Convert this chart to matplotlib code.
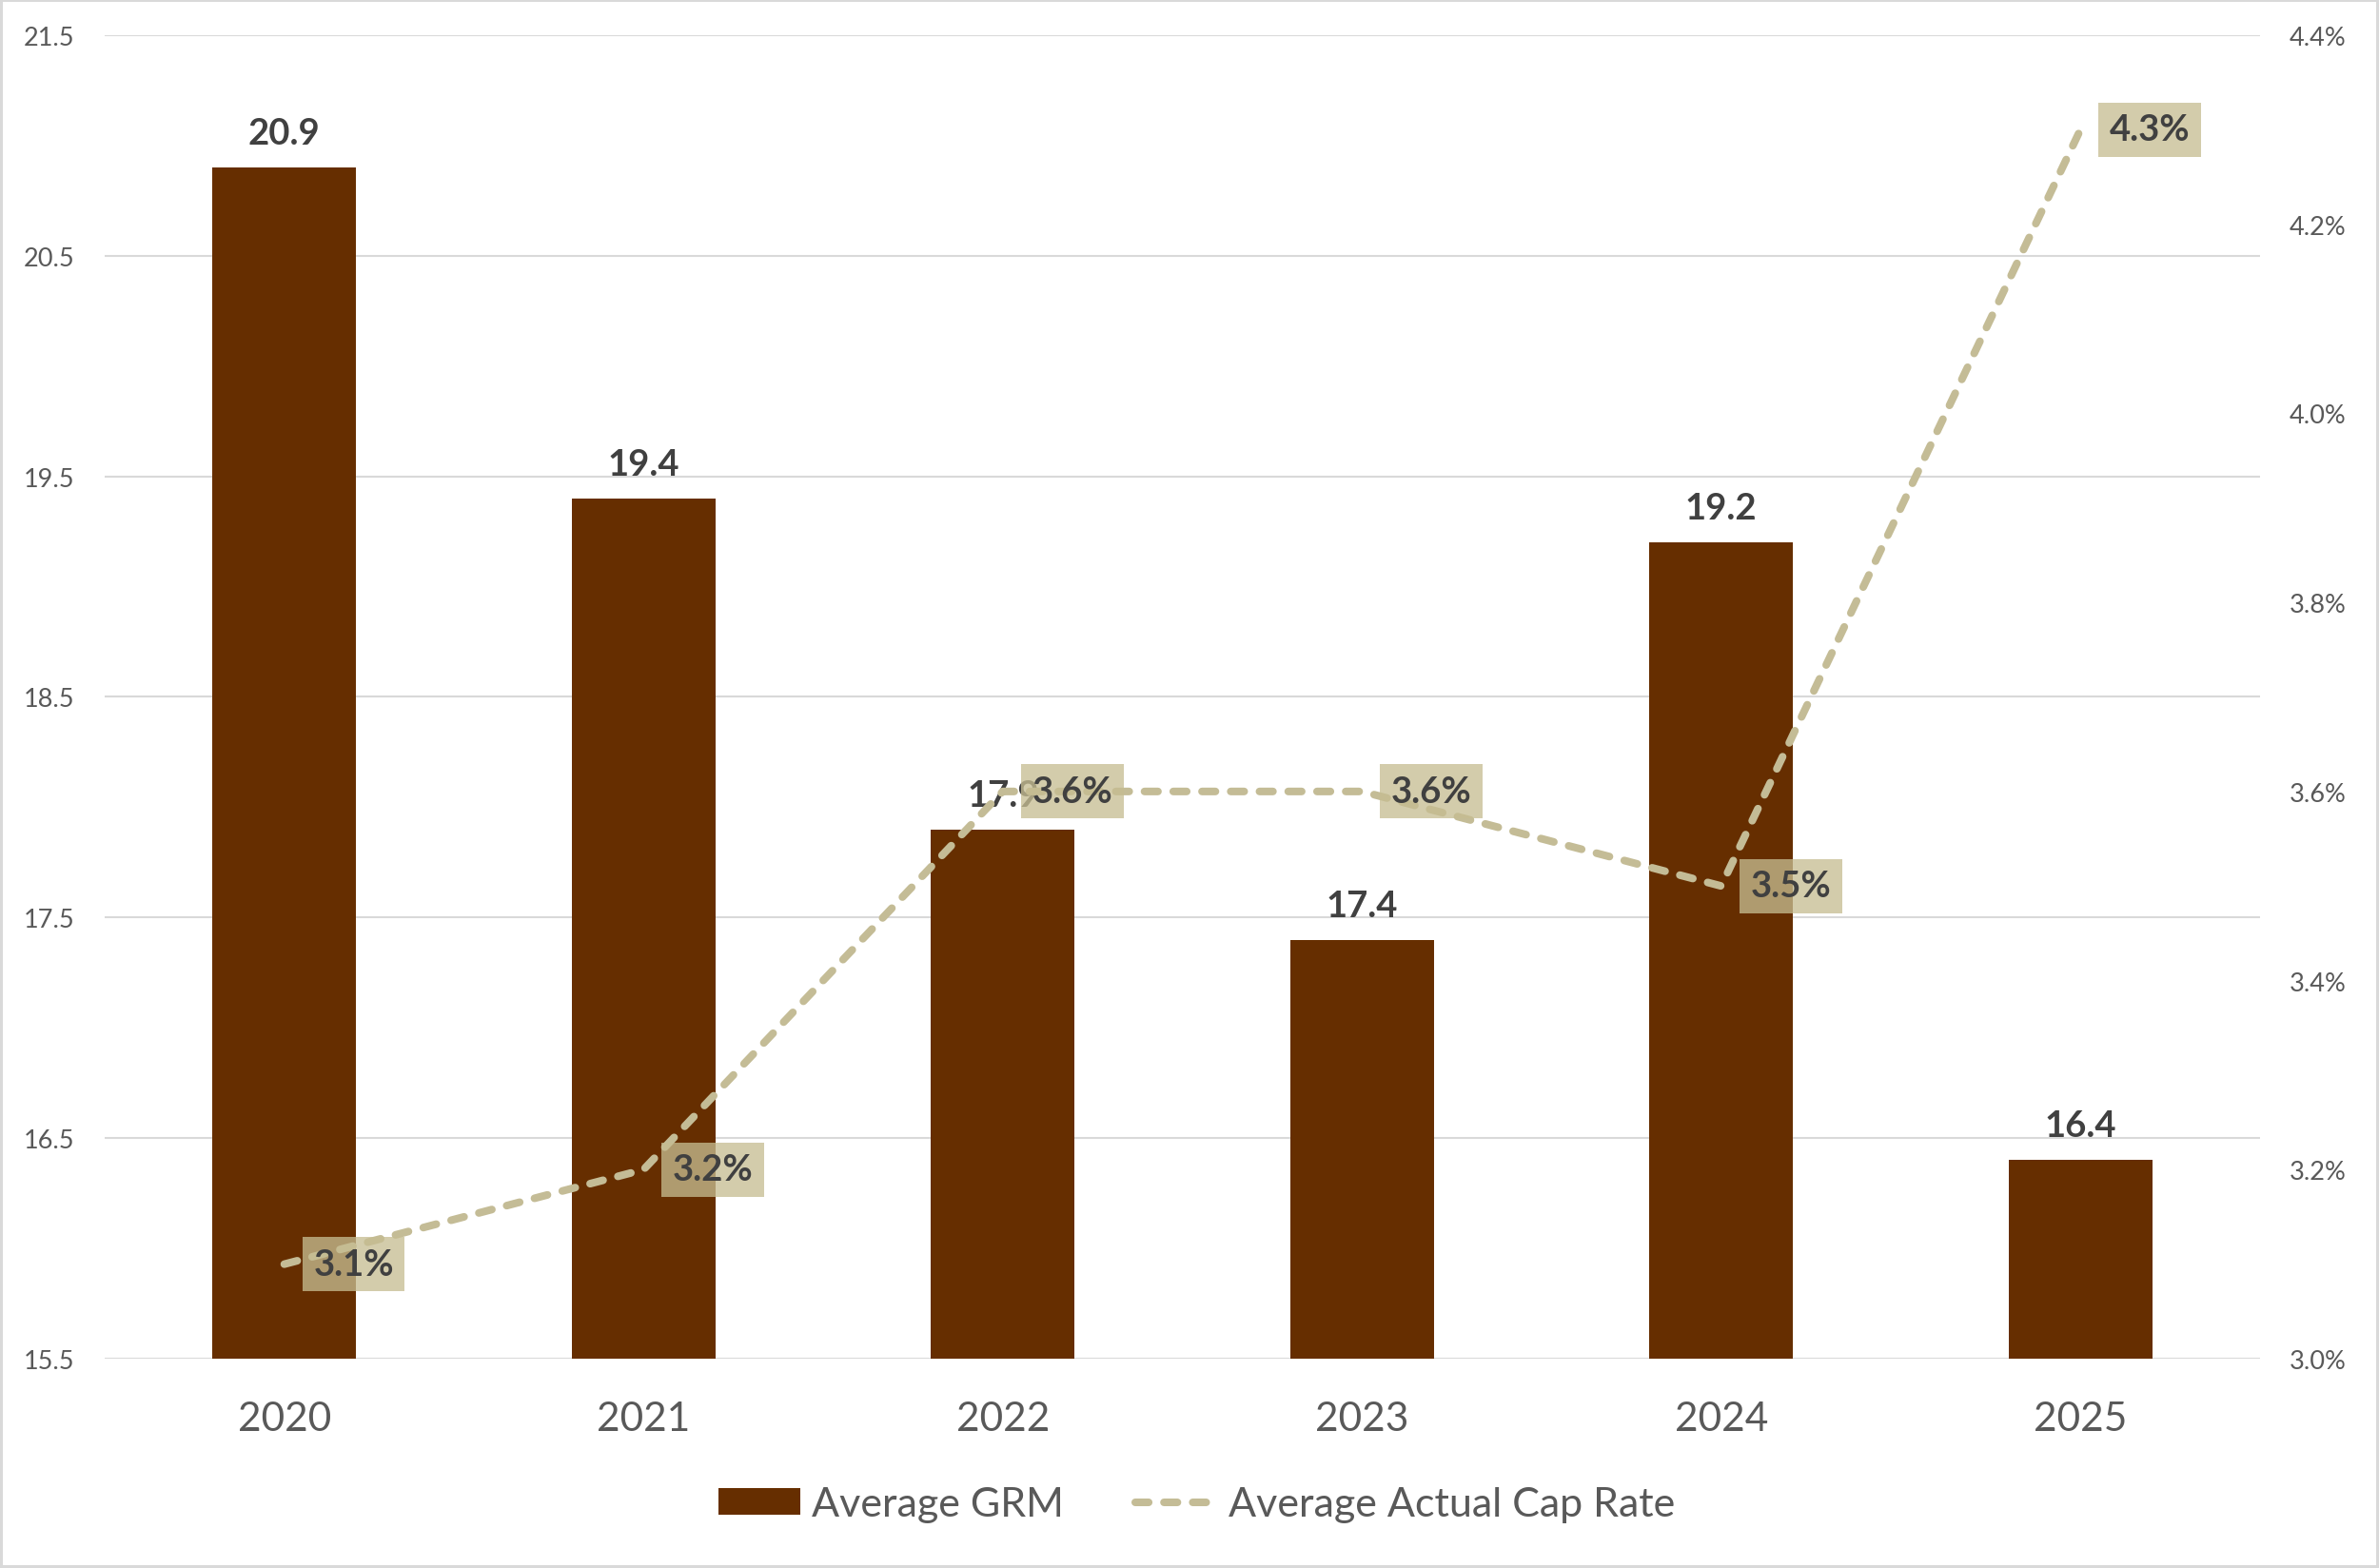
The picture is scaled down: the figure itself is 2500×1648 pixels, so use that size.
#!/usr/bin/env python3
'GRM bars with cap rate line'

import numpy
import matplotlib
matplotlib.use('Agg')
import matplotlib.pyplot as plt
from matplotlib.ticker import FuncFormatter

# data
years = ['2020', '2021', '2022', '2023', '2024', '2025']
grm = [20.9, 19.4, 17.9, 17.4, 19.2, 16.4]
cap_rate = [3.1, 3.2, 3.6, 3.6, 3.5, 4.3]

grm_ticks = [15.5, 16.5, 17.5, 18.5, 19.5, 20.5, 21.5]
cap_ticks = [3.0, 3.2, 3.4, 3.6, 3.8, 4.0, 4.2, 4.4]

# colours
bar_color = '#662E00'
line_color = '#C4BC96'
box_color = '#C6BD92'
tick_color = '#595959'
label_color = '#404040'
grid_color = '#D9D9D9'

plt.rcParams['font.family'] = ['Lato', 'DejaVu Sans']

fig = plt.figure(figsize=(25, 16.49), dpi=100)
fig.patch.set_edgecolor(grid_color)
fig.patch.set_linewidth(3)

ax = fig.add_axes([0.044, 0.1334, 0.906, 0.8436])
x = numpy.arange(len(years))

bars = ax.bar(x, grm, width=0.4, color=bar_color, zorder=2,
              label='Average GRM')
for xi, v in zip(x, grm):
    ax.annotate('%.1f' % v, (xi, v), xytext=(0, 18), textcoords='offset points',
                ha='center', va='baseline', fontsize=27.5, fontweight='bold',
                color=label_color, zorder=3)

ax.set_xlim(-0.5, len(years) - 0.5)
ax.set_ylim(grm_ticks[0], grm_ticks[-1])
ax.set_yticks(grm_ticks)
ax.set_yticklabels(['%.1f' % t for t in grm_ticks])
ax.set_xticks(x)
ax.set_xticklabels(years)
ax.grid(axis='y', color=grid_color, linewidth=1.5, zorder=0)
ax.set_axisbelow(True)
for s in ax.spines.values():
    s.set_visible(False)
ax.tick_params(axis='y', length=0, pad=23, labelsize=19.5, labelcolor=tick_color)
ax.tick_params(axis='x', length=0, pad=32, labelsize=30.5, labelcolor=tick_color)

# secondary axis for cap rate
ax2 = ax.twinx()
line, = ax2.plot(x, cap_rate, color=line_color, linewidth=5.8,
                 dashes=(1.75, 2.0), dash_capstyle='round',
                 label='Average Actual Cap Rate', zorder=2)
for xi, v in zip(x, cap_rate):
    ax2.annotate('%.1f%%' % v, (xi, v), xytext=(22, 0), textcoords='offset points',
                 ha='left', va='center', fontsize=27.5, fontweight='bold',
                 color=label_color, zorder=4,
                 bbox=dict(boxstyle='square,pad=0.3', fc=box_color, ec='none',
                           alpha=0.77))
ax2.set_ylim(cap_ticks[0], cap_ticks[-1])
ax2.set_yticks(cap_ticks)
ax2.yaxis.set_major_formatter(FuncFormatter(lambda v, p: '%.1f%%' % v))
for s in ax2.spines.values():
    s.set_visible(False)
ax2.tick_params(axis='y', length=0, pad=22, labelsize=19.5, labelcolor=tick_color)

leg = fig.legend([bars, line], ['Average GRM', 'Average Actual Cap Rate'],
                 loc='center', bbox_to_anchor=(0.503, 0.0406), ncol=2,
                 frameon=False, fontsize=31, handlelength=2.0,
                 handleheight=0.6, handletextpad=0.27, columnspacing=1.75,
                 labelcolor=tick_color)

fig.savefig('out.png', dpi=100, edgecolor=fig.get_edgecolor())
